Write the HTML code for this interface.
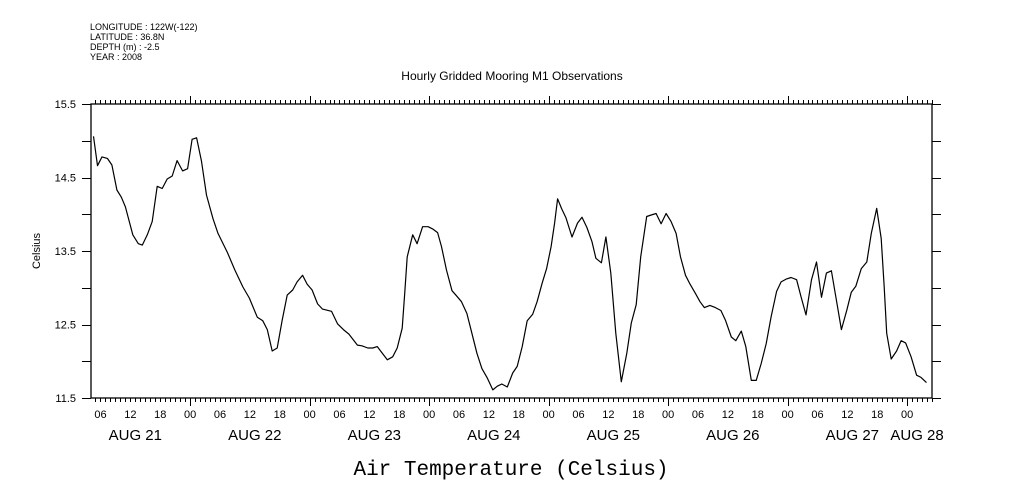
<!DOCTYPE html>
<html><head><meta charset="utf-8"><style>
html,body{margin:0;padding:0;background:#fff;}
svg{display:block;font-family:"Liberation Sans",sans-serif;}
</style></head><body>
<svg id="chart" width="1009" height="504" viewBox="0 0 1009 504" xmlns="http://www.w3.org/2000/svg">
<g font-size="9" fill="#000">
<text x="90" y="30">LONGITUDE : 122W(-122)</text>
<text x="90" y="40">LATITUDE : 36.8N</text>
<text x="90" y="50">DEPTH (m) : -2.5</text>
<text x="90" y="60">YEAR : 2008</text>
</g>
<text x="512" y="80" text-anchor="middle" font-size="12">Hourly Gridded Mooring M1 Observations</text>
<text x="40" y="251" text-anchor="middle" font-size="11" transform="rotate(-90 40 251)">Celsius</text>
<text x="511" y="475" text-anchor="middle" font-size="21" font-family="Liberation Mono, monospace">Air Temperature (Celsius)</text>
<g id="axes"></g>
<g id="series"></g>
</svg>
<script>
const hours=[4.6,5.4,6.3,7.4,8.3,9.3,10.2,11.0,12.5,13.6,14.4,15.4,16.4,17.4,18.4,19.4,20.4,21.4,22.5,23.5,24.4,25.3,26.3,27.3,28.6,29.6,31.5,33.0,34.6,35.9,37.5,38.6,39.5,40.5,41.5,42.5,43.5,44.6,45.5,46.6,47.5,48.5,49.6,50.6,52.4,53.6,54.8,55.9,57.6,58.5,59.7,60.7,61.6,62.7,63.6,64.7,65.6,66.6,67.1,67.6,68.7,69.6,70.7,71.8,72.7,73.7,74.5,75.5,76.6,77.5,78.5,79.6,80.6,81.6,82.6,83.7,84.8,85.7,86.6,87.7,88.8,89.7,90.7,91.7,92.8,93.7,94.7,95.6,96.5,97.2,97.8,98.6,99.5,100.7,101.8,102.7,103.7,104.7,105.5,106.6,107.5,108.5,109.5,110.6,111.7,112.6,113.6,114.5,115.7,116.6,117.6,118.6,119.6,120.6,121.6,122.5,123.5,124.4,125.5,126.4,127.3,128.4,129.5,130.6,131.5,132.7,133.6,134.7,135.6,136.7,137.7,138.7,139.7,140.7,141.8,142.7,143.8,144.7,145.8,146.7,147.7,148.8,149.8,150.8,151.8,152.8,153.8,154.8,155.9,156.8,157.7,158.8,159.9,160.8,161.9,162.8,163.4,163.9,164.8,165.9,166.8,167.7,168.8,169.9,170.8,171.9];
const temps=[15.06,14.66,14.78,14.76,14.67,14.33,14.23,14.10,13.72,13.60,13.58,13.72,13.90,14.38,14.35,14.48,14.52,14.73,14.59,14.62,15.02,15.04,14.72,14.26,13.94,13.74,13.48,13.24,13.01,12.86,12.60,12.55,12.43,12.14,12.18,12.56,12.90,12.97,13.08,13.17,13.05,12.97,12.78,12.71,12.68,12.51,12.43,12.37,12.22,12.21,12.18,12.18,12.20,12.10,12.02,12.06,12.18,12.45,12.92,13.42,13.72,13.60,13.83,13.83,13.80,13.75,13.56,13.24,12.96,12.89,12.81,12.65,12.38,12.11,11.90,11.77,11.61,11.66,11.69,11.65,11.84,11.93,12.20,12.55,12.64,12.81,13.06,13.26,13.56,13.88,14.21,14.08,13.95,13.69,13.88,13.96,13.82,13.63,13.40,13.34,13.69,13.20,12.38,11.72,12.11,12.52,12.77,13.42,13.97,13.99,14.01,13.87,14.01,13.90,13.74,13.42,13.17,13.05,12.92,12.81,12.73,12.76,12.73,12.69,12.56,12.33,12.28,12.41,12.20,11.74,11.74,11.97,12.24,12.61,12.95,13.08,13.12,13.14,13.11,12.88,12.63,13.11,13.35,12.87,13.20,13.23,12.83,12.43,12.70,12.94,13.02,13.26,13.35,13.74,14.08,13.67,13.01,12.38,12.03,12.14,12.28,12.25,12.06,11.81,11.78,11.71];
const yTickValues=[11.5,12,12.5,13,13.5,14,14.5,15,15.5];
const yLabelValues=["11.5","12.5","13.5","14.5","15.5"];
const hourLabels=["00","06","12","18"];
const dayLabels=["AUG 21","AUG 22","AUG 23","AUG 24","AUG 25","AUG 26","AUG 27","AUG 28"];
const dayLabelHours=[13,37,61,85,109,133,157,170];

const NS="http://www.w3.org/2000/svg";
const L=91,R=932,T=104,B=398,H0=4.1,H1=173;
const xs=h=>L+(h-H0)*(R-L)/(H1-H0);
const ys=v=>B-(v-11.5)*(B-T)/4;
function mk(tag,attrs,parent){const e=document.createElementNS(NS,tag);for(const k in attrs)e.setAttribute(k,attrs[k]);parent.appendChild(e);return e;}
const ax=document.getElementById('axes');
const frame=mk('rect',{x:L,y:T,width:R-L,height:B-T,fill:'none',stroke:'#000','stroke-width':1.3},ax);


for(let h=Math.ceil(H0);h<=H1;h++){
  const x=Math.round(xs(h))+0.5, major=(h%24===0), len=major?8:4;
  const tb=mk('line',{x1:x,x2:x,y1:B,y2:B+len,stroke:'#000','stroke-width':1},ax);
  
  
  const tt=mk('line',{x1:x,x2:x,y1:T,y2:T-len,stroke:'#000','stroke-width':1},ax);
  
  
  if(h%6===0){
    const t=mk('text',{x:xs(h),y:418,'text-anchor':'middle','font-size':11},ax);
    t.textContent=hourLabels[(h%24)/6];
    
    
  }
}
dayLabels.forEach((d,i)=>{
  const t=mk('text',{x:xs(dayLabelHours[i]),y:440,'text-anchor':'middle','font-size':15},ax);
  t.textContent=d;
  
  
});
yTickValues.forEach(v=>{
  const y=Math.round(ys(v))+0.5;
  const a=mk('line',{x1:L-9,x2:L,y1:y,y2:y,stroke:'#000','stroke-width':1},ax);
  
  
  const b=mk('line',{x1:R,x2:R+9,y1:y,y2:y,stroke:'#000','stroke-width':1},ax);
  
  
});
yLabelValues.forEach(s=>{
  const t=mk('text',{x:76,y:ys(parseFloat(s))+4,'text-anchor':'end','font-size':11},ax);
  t.textContent=s;
  
  
});
const pts=hours.map((h,i)=>xs(h).toFixed(1)+','+ys(temps[i]).toFixed(1)).join(' ');
const line=mk('polyline',{points:pts,fill:'none',stroke:'#000','stroke-width':1.2,'stroke-linejoin':'round'},document.getElementById('series'));


</script>
</body></html>
